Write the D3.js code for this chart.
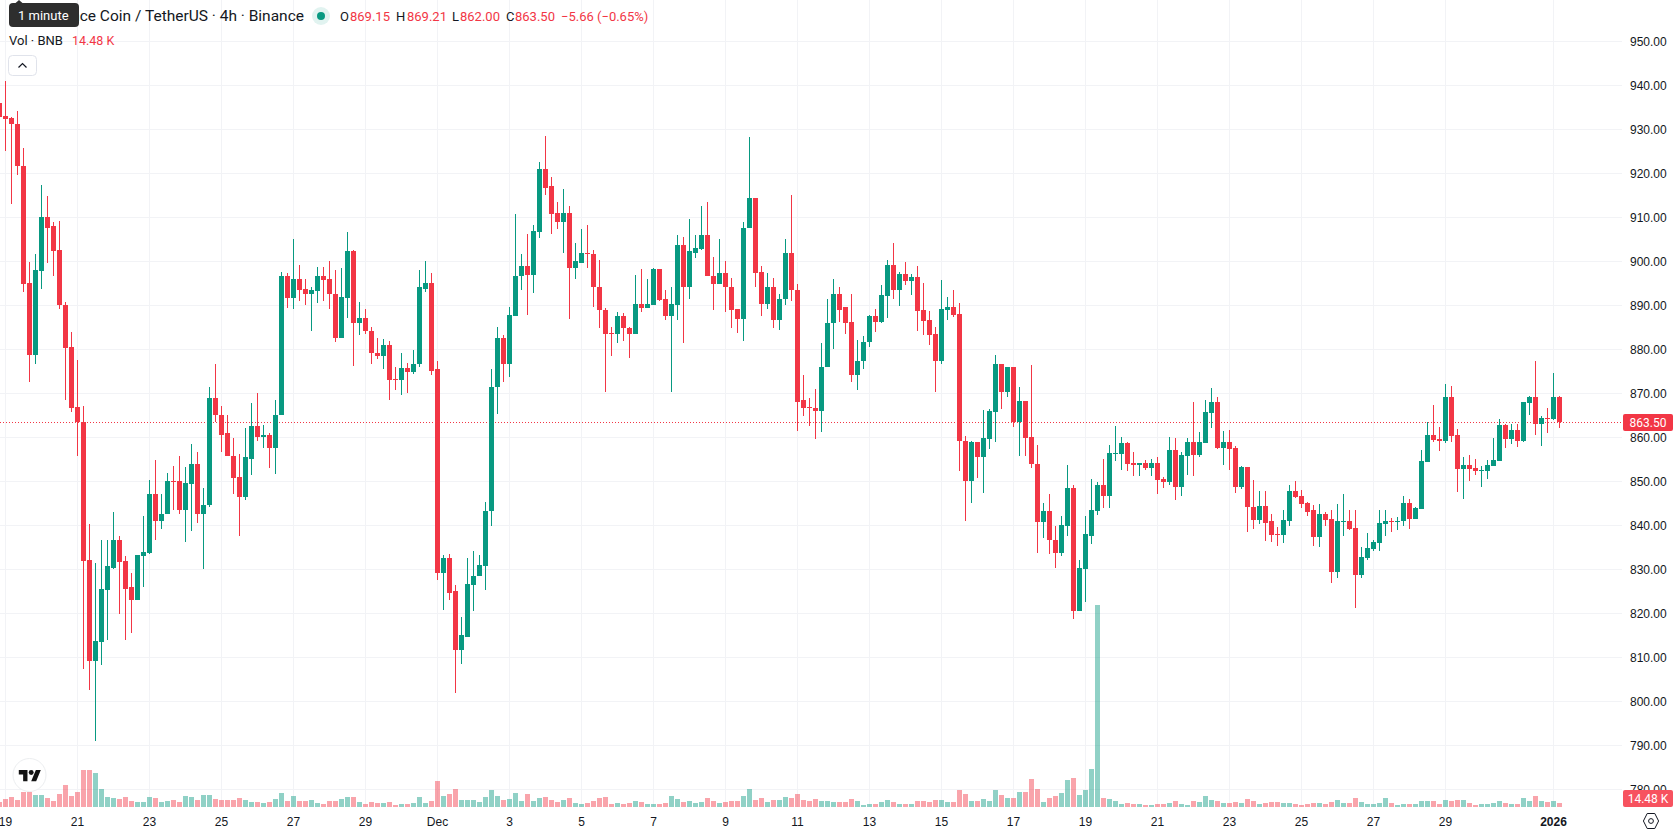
<!DOCTYPE html>
<html>
<head>
<meta charset="utf-8">
<title>BNB / TetherUS 4h</title>
<script src="https://cdn.jsdelivr.net/npm/d3@7/dist/d3.min.js"></script>
<style>
  html, body { margin: 0; padding: 0; background: #fff; }
  svg { display: block; font-family: Roboto, "Noto Sans", sans-serif; }
</style>
</head>
<body>
<svg id="chart" width="1678" height="835"></svg>
<script>
// 4-hour candles; the first one opens at 20:00 UTC on 18 Nov 2025.
const firstCandle = Date.UTC(2025, 10, 18, 20);
const candleStep = 4 * 3600 * 1000;

const opens = [935.8,
932.9,932.4,931.2,921.7,894.9,878.7,897.7,910.1,907.9,902.4,
890.1,880.5,866.8,863.5,832.1,809.0,813.5,825.3,830.3,836.5,
831.9,825.8,823.0,832.9,833.7,847.0,841.0,842.4,849.9,849.9,
843.5,849.4,853.9,842.6,844.5,868.8,864.9,860.8,855.7,850.8,
846.3,855.1,862.6,859.9,860.5,857.6,864.9,896.7,891.7,895.8,
893.7,892.4,893.1,896.5,895.8,892.6,882.4,891.7,902.2,886.0,
887.1,884.2,879.2,878.3,881.0,873.1,872.9,875.6,874.7,876.5,
893.7,895.1,875.4,829.1,832.5,824.9,811.6,814.6,826.4,828.3,
830.7,843.1,871.3,882.6,876.5,887.5,896.5,898.9,896.9,906.7,
920.8,917.0,910.8,908.8,910.8,898.3,899.5,901.9,901.7,894.2,
888.9,883.7,883.5,887.6,884.8,883.5,890.3,889.4,890.0,898.1,
891.4,887.6,890.1,903.7,894.2,901.9,902.8,906.0,896.7,894.7,
897.2,894.2,889.2,886.9,907.4,914.3,897.4,890.3,894.2,886.5,
891.3,901.9,893.5,868.3,866.9,866.6,865.8,875.8,885.8,892.4,
889.5,886.2,874.0,877.2,881.5,887.4,886.1,892.0,899.0,893.3,
897.0,895.4,896.3,888.8,886.5,883.3,877.2,888.8,889.5,887.9,
859.2,849.9,858.8,855.4,859.5,865.6,876.7,870.2,875.8,863.3,
868.1,859.9,853.8,840.6,843.1,836.7,833.6,839.7,848.3,820.4,
829.9,837.6,843.1,849.2,846.5,856.1,856.1,858.6,854.0,853.6,
854.0,852.9,854.2,850.4,849.7,857.0,848.6,855.6,858.8,855.8,
858.6,865.4,867.9,857.4,858.8,857.4,848.6,853.1,844.2,841.2,
844.4,840.8,838.0,837.8,841.0,847.8,846.7,845.1,843.3,837.3,
842.6,841.4,829.4,840.8,841.0,839.4,828.7,832.6,834.6,836.0,
840.3,841.0,840.8,840.8,845.1,841.4,843.7,854.4,860.5,859.6,
859.2,869.2,860.5,852.8,853.7,853.0,852.3,852.3,853.5,854.6,
862.8,859.6,861.7,859.2,867.8,869.2,863.0,864.4,864.2,869.15];

const highs = [937.1,
940.9,932.8,934.0,925.6,899.7,901.5,917.2,914.7,908.9,909.0,
890.6,883.8,877.4,867.1,840.2,831.4,836.5,836.5,843.0,837.6,
832.9,829.0,833.1,842.0,850.3,854.7,847.0,851.9,853.3,855.6,
853.1,858.5,856.7,848.3,871.3,876.5,867.1,865.1,859.7,856.2,
862.0,867.8,870.1,862.8,861.0,868.3,897.4,897.2,904.9,899.2,
896.0,894.2,898.7,898.7,899.9,898.0,898.5,906.5,902.4,890.6,
889.0,884.9,882.4,882.2,881.9,875.8,879.0,876.9,879.7,897.9,
899.9,897.2,877.2,833.1,833.5,826.4,819.0,832.4,834.2,833.1,
845.3,875.5,885.1,883.1,889.6,910.6,901.7,906.2,908.1,922.6,
928.4,919.2,913.3,916.3,912.4,904.2,907.2,908.1,902.4,900.3,
889.4,885.1,888.5,888.1,885.1,896.9,898.1,895.8,898.3,898.1,
893.5,894.0,906.0,905.4,909.6,905.8,912.6,913.3,900.8,905.1,
899.9,896.2,889.2,908.9,928.1,914.4,898.9,897.2,896.2,892.6,
905.1,915.1,894.7,874.0,868.9,871.0,881.3,891.4,895.9,894.2,
889.6,892.4,882.1,882.9,887.7,889.2,894.5,900.2,904.2,897.4,
899.7,897.0,898.8,894.9,888.6,884.9,895.6,891.8,893.3,890.4,
860.2,859.2,858.8,866.1,866.3,878.6,876.7,875.8,875.8,871.3,
868.1,876.3,858.1,844.9,847.0,839.7,842.0,853.6,849.0,832.0,
842.0,850.4,849.7,855.1,858.1,862.4,859.9,858.8,856.5,854.0,
854.7,855.1,855.4,850.8,859.9,859.7,856.7,859.7,867.9,861.1,
868.3,871.1,869.2,861.3,861.5,857.9,853.3,853.1,850.3,847.8,
847.8,842.6,839.6,843.3,849.2,850.1,848.0,845.3,844.6,844.8,
843.0,843.5,844.8,847.1,843.3,843.5,835.1,838.2,836.7,843.3,
843.5,841.7,841.9,846.7,845.8,844.2,857.1,863.5,867.3,862.3,
872.1,871.7,861.9,855.5,855.8,855.1,853.5,854.8,859.8,864.2,
863.0,863.0,863.0,868.0,869.4,877.3,864.8,866.7,874.6,869.21];

const lows = [931.8,
925.0,913.0,919.6,893.0,872.4,876.5,893.7,899.5,896.7,889.0,
868.3,865.6,855.6,807.3,802.6,791.0,808.1,813.9,830.1,819.7,
813.9,815.4,823.0,826.0,833.3,836.7,839.0,842.4,843.3,842.4,
836.2,838.7,840.5,830.1,844.2,863.4,856.7,855.6,847.0,837.6,
845.6,851.3,859.2,857.6,852.9,851.7,864.9,889.4,889.2,890.8,
889.9,884.0,890.4,890.8,889.2,881.7,882.4,887.1,876.2,883.1,
883.5,876.5,877.7,875.4,868.3,870.6,869.6,870.1,874.4,875.8,
892.9,874.2,827.6,820.7,823.0,801.9,808.4,814.6,820.5,828.3,
825.3,839.8,865.3,872.6,873.7,887.4,893.5,887.8,892.8,905.2,
914.9,906.2,907.2,901.9,886.9,896.0,899.5,898.5,889.6,884.7,
870.3,878.5,881.3,881.9,878.0,883.3,888.3,889.4,890.0,890.9,
886.6,870.3,886.7,881.3,891.3,900.6,902.6,896.5,888.9,894.7,
888.3,884.7,883.7,881.9,907.4,894.0,887.4,889.2,884.7,884.4,
889.9,890.8,861.4,864.8,862.4,859.6,861.2,875.8,880.1,886.2,
883.5,872.4,870.6,875.4,880.4,883.8,885.8,887.0,891.3,889.7,
894.5,892.2,884.2,883.1,880.8,870.2,876.5,886.7,887.2,852.2,
840.8,844.9,850.6,847.2,857.2,858.8,866.3,869.2,862.2,855.6,
855.6,852.9,833.6,837.0,833.3,830.2,832.9,837.4,818.6,820.4,
822.4,835.6,842.2,843.8,843.8,854.5,852.4,852.2,851.1,851.1,
852.6,851.1,847.0,848.3,849.0,845.6,846.5,851.3,851.1,855.4,
858.6,862.0,857.2,853.6,852.4,847.2,848.1,838.3,839.2,840.3,
836.4,836.2,835.3,835.8,839.8,846.2,843.9,842.1,835.3,835.1,
839.8,826.9,828.0,837.5,838.9,821.2,828.0,832.1,834.1,834.1,
837.5,838.5,838.9,839.8,839.2,841.4,843.7,854.4,858.9,856.9,
858.7,858.9,847.6,846.0,850.1,851.4,848.7,850.5,853.5,854.6,
857.4,858.5,857.8,858.9,865.1,860.5,858.0,861.0,863.9,862.00];

const closes = [932.7,
932.2,931.2,921.5,894.7,878.7,897.9,910.1,907.6,902.2,889.9,
880.3,866.5,863.4,831.9,809.0,813.7,825.5,830.6,836.5,831.7,
825.5,823.0,833.1,833.9,847.0,841.0,842.6,849.9,849.7,843.5,
849.6,853.9,842.6,844.6,868.8,864.9,860.5,855.6,850.6,846.3,
855.4,862.6,859.9,860.5,857.6,865.1,896.7,891.7,895.8,893.5,
892.4,893.3,896.5,895.6,892.4,882.4,891.9,902.2,886.0,887.1,
884.0,879.0,878.3,881.0,872.9,872.9,875.6,874.7,876.7,894.0,
895.1,875.1,829.2,832.5,824.6,811.6,814.9,826.6,828.4,831.0,
843.2,871.4,882.6,876.5,887.8,896.7,898.9,896.9,906.9,920.8,
916.7,910.6,908.8,910.8,898.3,899.9,901.9,901.7,894.0,888.8,
883.5,883.5,887.6,884.7,883.5,890.3,889.4,890.3,898.1,891.2,
887.6,890.3,903.7,894.2,902.2,903.0,906.0,896.5,894.7,897.2,
894.0,888.9,886.9,907.6,914.3,897.2,890.3,894.2,886.5,891.4,
901.9,893.3,868.0,866.6,866.5,865.8,876.0,886.0,892.4,888.9,
886.0,874.0,877.3,881.7,887.4,886.1,892.2,899.0,893.3,897.0,
895.4,896.3,888.6,886.3,883.1,877.2,889.0,889.5,887.65,859.0,
849.9,858.8,855.4,859.7,865.8,876.7,870.2,875.8,863.3,868.1,
859.7,853.8,840.6,843.1,836.5,833.6,839.9,848.3,820.4,830.2,
837.9,843.3,849.2,846.5,856.3,856.3,858.6,853.8,853.6,854.0,
852.9,854.2,850.2,849.7,857.0,848.6,855.8,858.8,855.8,858.8,
865.6,867.9,857.4,858.8,857.2,848.6,853.1,844.0,841.2,844.4,
840.5,837.8,837.8,841.2,847.8,846.4,844.8,843.0,837.3,842.6,
841.2,829.4,840.8,841.0,839.2,828.7,832.8,834.8,836.2,840.5,
841.0,840.8,841.0,845.1,841.4,843.9,854.6,860.5,859.4,859.2,
869.2,860.3,852.8,853.7,852.8,852.3,852.6,853.7,854.8,862.8,
859.6,861.7,859.2,868.0,869.2,863.0,864.4,864.2,869.2,863.50];

// Traded volume per candle, thousands of BNB.
const volumes = [18.1,
29.0,36.2,25.3,54.3,54.3,43.4,43.4,32.6,21.7,47.1,
79.6,39.8,54.3,133.9,133.9,123.1,65.2,36.2,32.6,29.0,
36.2,21.7,18.1,18.1,36.2,32.6,18.1,21.7,25.3,18.1,
39.8,36.2,25.3,43.4,43.4,29.0,25.3,25.3,25.3,32.6,
25.3,18.1,18.1,14.5,18.1,29.0,50.7,21.7,39.8,21.7,
21.7,25.3,14.5,10.9,21.7,21.7,29.0,36.2,36.2,18.1,
10.9,18.1,14.5,14.5,18.1,7.2,10.9,10.9,14.5,36.2,
14.5,21.7,94.1,39.8,47.1,65.2,25.3,25.3,25.3,18.1,
36.2,61.5,39.8,25.3,29.0,50.7,21.7,47.1,21.7,32.6,
36.2,25.3,18.1,25.3,32.6,14.5,10.9,14.5,21.7,32.6,
36.2,10.9,14.5,10.9,14.5,21.7,18.1,10.9,10.9,10.9,
14.5,39.8,29.0,18.1,21.7,14.5,18.1,32.6,21.7,14.5,
18.1,21.7,21.7,39.8,65.2,25.3,32.6,18.1,25.3,25.3,
36.2,32.6,47.1,25.3,21.7,29.0,21.7,21.7,18.1,18.1,
18.1,29.0,21.7,7.2,10.9,10.9,18.1,25.3,18.1,10.9,
10.9,10.9,21.7,21.7,18.1,25.3,25.3,18.1,18.1,61.5,
47.1,21.7,21.7,29.0,21.7,61.5,43.4,32.6,32.6,54.3,
54.3,101.4,65.2,18.1,32.6,39.8,50.7,97.7,105.0,43.4,
61.5,137.6,731.2,32.6,29.0,21.7,10.9,14.5,10.9,10.9,
7.2,7.2,10.9,10.9,14.5,21.7,10.9,7.2,21.7,18.1,
39.8,25.3,21.7,14.5,14.5,18.1,14.5,29.0,21.7,10.9,
14.5,18.1,18.1,14.5,14.5,10.9,7.2,10.9,14.5,14.5,
10.9,18.1,25.3,14.5,14.5,32.6,18.1,10.9,10.9,14.5,
32.6,14.5,7.2,10.9,10.9,10.9,21.7,21.7,21.7,10.9,
25.3,21.7,25.3,25.3,14.5,7.2,10.9,10.9,14.5,21.7,
14.5,10.9,10.9,32.6,21.7,39.8,21.7,18.1,21.7,14.48];

const priceTicks = [950,940,930,920,910,900,890,880,870,860,850,840,830,820,810,800,790,780];
const timeTickDates = ["2025-11-19","2025-11-21","2025-11-23","2025-11-25","2025-11-27","2025-11-29",
  "2025-12-01","2025-12-03","2025-12-05","2025-12-07","2025-12-09","2025-12-11","2025-12-13","2025-12-15",
  "2025-12-17","2025-12-19","2025-12-21","2025-12-23","2025-12-25","2025-12-27","2025-12-29","2026-01-01"];
const timeTickLabels = ["19","21","23","25","27","29","Dec","3","5","7","9","11","13","15",
  "17","19","21","23","25","27","29","2026"];

const lastPrice = 863.50;
const lastVolume = 14.48;

const UP = "#089981", DOWN = "#f23645", GRID = "#f2f3f6", INK = "#131722";
const VOL_UP = "rgba(8,153,129,0.45)", VOL_DOWN = "rgba(242,54,69,0.45)";

const candles = opens.map((o, i) => ({
  t: new Date(firstCandle + i * candleStep),
  o, h: highs[i], l: lows[i], c: closes[i], v: volumes[i]
}));

const paneW = 1622, paneH = 807;
const svg = d3.select("#chart");

const x = d3.scaleUtc()
  .domain([Date.UTC(2025, 10, 19), Date.UTC(2026, 0, 1)])
  .range([5, 1553]);
const y = d3.scaleLinear().domain([780, 950]).range([789, 41]);
const yVol = d3.scaleLinear().domain([0, 731.2]).range([paneH, 605]);

// Grid lines and labels come from the two axes.
const tickLabel = new Map(timeTickDates.map((d, i) => [+new Date(d + "T00:00:00Z"), timeTickLabels[i]]));
const xAxis = d3.axisBottom(x)
  .tickValues([...tickLabel.keys()].map(k => new Date(k)))
  .tickFormat(d => tickLabel.get(+d))
  .tickSize(-paneH)
  .tickPadding(10.5);
const yAxis = d3.axisRight(y)
  .tickValues(priceTicks)
  .tickFormat(d3.format(".2f"))
  .tickSize(-paneW)
  .tickPadding(8);

const styleAxis = g => {
  g.select(".domain").remove();
  g.selectAll("line").attr("stroke", GRID).attr("shape-rendering", "crispEdges");
  g.selectAll("text").attr("fill", INK).attr("font-size", 12).attr("font-family", null);
};
svg.append("g").attr("transform", `translate(0,${paneH})`).call(xAxis).call(styleAxis)
  .selectAll("text").filter(d => +d === Date.UTC(2026, 0, 1)).attr("font-weight", 700);
svg.append("g").attr("transform", `translate(${paneW},0)`).call(yAxis).call(styleAxis)
  .selectAll("text").attr("dy", "0.4em");

// Volume bars sit behind the candles, on their own scale at the foot of the pane.
svg.append("g").attr("shape-rendering", "crispEdges")
  .selectAll("rect").data(candles).join("rect")
  .attr("x", d => x(d.t) - 2)
  .attr("width", 5)
  .attr("y", d => Math.round(yVol(d.v)))
  .attr("height", d => paneH - Math.round(yVol(d.v)))
  .attr("fill", d => d.c >= d.o ? VOL_UP : VOL_DOWN);

// Last price line.
const lastY = Math.round(y(lastPrice)) + 0.5;
svg.append("line")
  .attr("x1", 0).attr("x2", paneW).attr("y1", lastY).attr("y2", lastY)
  .attr("stroke", DOWN).attr("stroke-dasharray", "1 2");

// Candles: one wick and one body each.
const candleG = svg.append("g").attr("shape-rendering", "crispEdges")
  .selectAll("g").data(candles).join("g")
  .attr("fill", d => d.c >= d.o ? UP : DOWN);
candleG.append("rect")
  .attr("x", d => x(d.t)).attr("width", 1)
  .attr("y", d => Math.round(y(d.h)))
  .attr("height", d => Math.max(1, Math.round(y(d.l)) - Math.round(y(d.h))));
candleG.append("rect")
  .attr("x", d => x(d.t) - 2).attr("width", 5)
  .attr("y", d => Math.round(y(Math.max(d.o, d.c))))
  .attr("height", d => Math.max(1, Math.round(y(Math.min(d.o, d.c))) - Math.round(y(Math.max(d.o, d.c)))));

// Price-scale badges.
const badge = (top, h, fill, label) => {
  svg.append("rect").attr("x", 1623).attr("y", top).attr("width", 50).attr("height", h)
    .attr("rx", 2).attr("fill", fill);
  svg.append("text").attr("x", 1648).attr("y", top + h / 2 + 4.4)
    .attr("text-anchor", "middle").attr("fill", "#fff").attr("font-size", 12).text(label);
};
badge(lastY - 8.5, 17, DOWN, d3.format(".2f")(lastPrice));
badge(790, 17, "#f7525f", lastVolume.toFixed(2) + " K");

// Legend rows.
const legend = svg.append("g");
legend.append("text").attr("x", 304).attr("y", 21).attr("text-anchor", "end")
  .attr("font-size", 15.5).attr("fill", INK)
  .text("Binance Coin / TetherUS · 4h · Binance");
legend.append("circle").attr("cx", 321).attr("cy", 16).attr("r", 9).attr("fill", UP).attr("opacity", 0.12);
legend.append("circle").attr("cx", 321).attr("cy", 16).attr("r", 4).attr("fill", UP);

const ohlc = [
  ["O", 340, "869.15", 350], ["H", 396, "869.21", 407],
  ["L", 452, "862.00", 460], ["C", 506, "863.50", 515]
];
ohlc.forEach(([k, kx, v, vx]) => {
  legend.append("text").attr("x", kx).attr("y", 21).attr("font-size", 13).attr("fill", INK).text(k);
  legend.append("text").attr("x", vx).attr("y", 21).attr("font-size", 13).attr("fill", DOWN).text(v);
});
legend.append("text").attr("x", 561).attr("y", 21).attr("font-size", 13).attr("fill", DOWN)
  .text("−5.66 (−0.65%)");
legend.append("text").attr("x", 9).attr("y", 45).attr("font-size", 13).attr("fill", INK).text("Vol · BNB");
legend.append("text").attr("x", 72).attr("y", 45).attr("font-size", 12.5).attr("fill", DOWN)
  .text(lastVolume.toFixed(2) + " K");

// Collapse button under the legend.
legend.append("rect").attr("x", 8.5).attr("y", 55.5).attr("width", 28).attr("height", 20).attr("rx", 4)
  .attr("fill", "#fff").attr("stroke", "#e0e3eb");
legend.append("path").attr("d", "M18.5 67.5l4-4 4 4").attr("fill", "none").attr("stroke", INK).attr("stroke-width", 1.2);

// Tooltip resting over the start of the title.
const tip = svg.append("g");
tip.append("path").attr("d", "M15 3.5l4-3.5 4 3.5z").attr("fill", "#2e2e2e");
tip.append("rect").attr("x", 9).attr("y", 3).attr("width", 70).attr("height", 24).attr("rx", 4).attr("fill", "#2e2e2e");
tip.append("text").attr("x", 18).attr("y", 19.5).attr("font-size", 13).attr("fill", "#fff").text("1 minute");

// TradingView mark, bottom left of the pane.
const logo = svg.append("g");
logo.append("circle").attr("cx", 29.5).attr("cy", 775).attr("r", 16.5).attr("fill", "#fff").attr("stroke", "#eceef0").attr("stroke-width", 1);
const mark = logo.append("g").attr("transform", "translate(18.8,767.6) scale(0.62)").attr("fill", "#131313");
mark.append("path").attr("d", "M14 22H7V11H0V4h14v18zM28 22h-8l7.5-18h8L28 22z");
mark.append("circle").attr("cx", 20).attr("cy", 8).attr("r", 4);

// Scale settings icon, bottom right.
const gear = svg.append("g").attr("transform", "translate(1651,821)").attr("fill", "none").attr("stroke", INK);
gear.append("path").attr("d", "M-3.8 -7.5H3.8L7.6 0L3.8 7.5H-3.8L-7.6 0Z");
gear.append("circle").attr("r", 2.4);
</script>
</body>
</html>
